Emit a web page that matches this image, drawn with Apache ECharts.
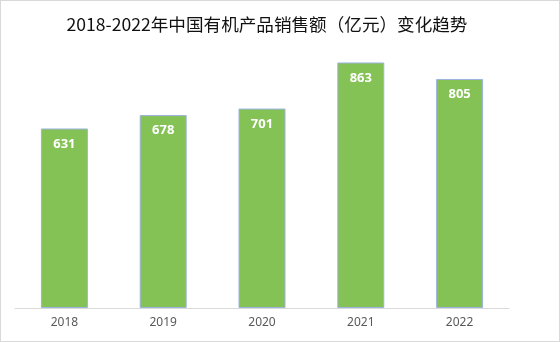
<!DOCTYPE html>
<html><head><meta charset="utf-8">
<script src="https://cdn.jsdelivr.net/npm/echarts@6/dist/echarts.min.js"></script>
<style>html,body{margin:0;padding:0;background:#fff}#c{width:560px;height:342px;box-sizing:border-box;border:1px solid #d9d9d9}</style>
</head><body><div id="c"></div>
<script>
const categories = ['2018','2019','2020','2021','2022'];
const sales = [631, 678, 701, 863, 805];
const chart = echarts.init(document.getElementById('c'));
chart.setOption({
  animation:false,
  title:{text:'2018-2022年中国有机产品销售额（亿元）变化趋势',left:261,textAlign:'center',top:10,
    textStyle:{fontFamily:'Noto Sans CJK SC',fontSize:17.6,fontWeight:'normal',color:'#111'}},
  grid:{left:14,right:50,top:22.5,bottom:33},
  xAxis:{type:'category',data:categories,axisTick:{show:false},
    axisLine:{lineStyle:{color:'#d9d9d9'}},
    axisLabel:{color:'#595959',fontSize:12,margin:9,fontFamily:'Noto Sans'}},
  yAxis:{type:'value',min:0,max:1000,show:false,splitLine:{show:false}},
  series:[{type:'bar',data:sales,barWidth:47,
    itemStyle:{color:'#84C256',borderColor:'#9db3e0',borderWidth:1},
    label:{show:true,position:'insideTop',distance:9,color:'#fff',fontWeight:'bold',fontSize:13,fontFamily:'Noto Sans'}}]
});
</script></body></html>
